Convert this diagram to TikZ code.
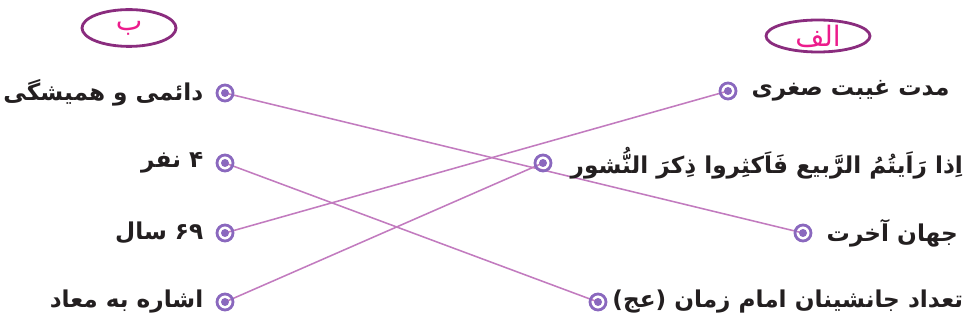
\documentclass[tikz,border=0pt]{standalone}
\usepackage{fontspec}
\newfontfamily\arabicfont[Script=Arabic]{DejaVu Sans}
\TeXXeTstate=1
\usetikzlibrary{positioning, backgrounds, shapes.geometric}
\definecolor{ringpurple}{HTML}{8A68BE}
\definecolor{linkpink}{HTML}{C27BBF}
\definecolor{ovalpurple}{HTML}{8A2C7E}
\definecolor{labelpink}{HTML}{EC1C8C}
\definecolor{inkgray}{HTML}{231F20}

\begin{document}
\begin{tikzpicture}[
    x=0.025cm, y=-0.025cm,
    every node/.style={font=\arabicfont\bfseries\fontsize{16.5}{18}\selectfont, text=inkgray},
    dot/.style={circle, draw=ringpurple, line width=2pt, minimum size=0.4cm,
                inner sep=0pt, path picture={\fill[ringpurple]
                (path picture bounding box.center) circle (0.1cm);}},
    item/.style={inner sep=0pt},
    tag/.style={ellipse, draw=ovalpurple, line width=2pt, inner sep=0pt,
                text=labelpink, font=\arabicfont\fontsize{20}{22}\selectfont},
    link/.style={draw=linkpink, line width=1.1pt}
  ]
  \useasboundingbox (0,0) rectangle (976,327);

  % headers
  \node[tag, minimum width=2.35cm, minimum height=0.92cm] (headB) at (129,28) {\beginR ب\endR};
  \node[tag, minimum width=2.6cm, minimum height=0.8cm] (headA) at (818,36) {\beginR الف\endR};

  % left column
  \node[dot] (l1) at (225,93) {};
  \node[dot] (l2) at (225,163) {};
  \node[dot] (l3) at (225,233) {};
  \node[dot] (l4) at (225,302) {};
  \node[item, left=0.3cm of l1] (tl1) {\beginR دائمی و همیشگی\endR};
  \node[item, left=0.3cm of l2] (tl2) {\beginR ۴ نفر\endR};
  \node[item, left=0.3cm of l3] (tl3) {\beginR \beginL ۶۹\endL{} سال\endR};
  \node[item, left=0.3cm of l4] (tl4) {\beginR اشاره به معاد\endR};

  % right column
  \node[dot] (r1) at (728,91) {};
  \node[dot] (r2) at (543,163) {};
  \node[dot] (r3) at (803,233) {};
  \node[dot] (r4) at (598,302) {};
  \node[item, right=0.35cm of r1] (tr1) {\beginR مدت غیبت صغری\endR};
  \node[item, right=0.45cm of r2] (tr2) {\beginR اِذا رَاَیتُمُ الرَّبیع فَاَکثِروا ذِکرَ النُّشور\endR};
  \node[item, right=0.35cm of r3] (tr3) {\beginR جهان آخرت\endR};
  \node[item, right=0.12cm of r4] (tr4) {\beginR تعداد جانشینان امام زمان (عج)\endR};

  % matching lines
  \begin{scope}[on background layer]
    \draw[link] (l1.center) -- (r3.center);
    \draw[link] (l2.center) -- (r4.center);
    \draw[link] (l3.center) -- (r1.center);
    \draw[link] (l4.center) -- (r2.center);
  \end{scope}
\end{tikzpicture}
\end{document}
